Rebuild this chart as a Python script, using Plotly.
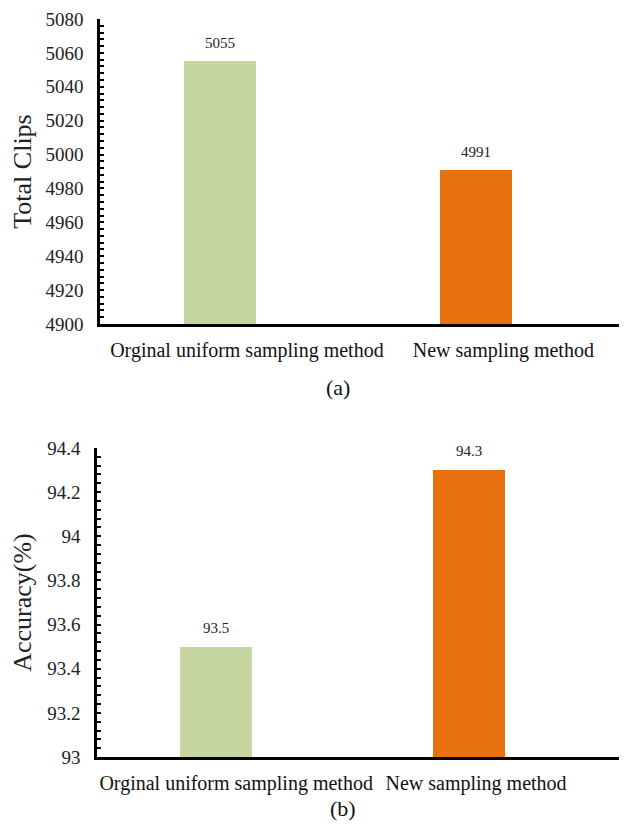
import plotly.graph_objects as go

categories = ["Orginal uniform sampling method", "New sampling method"]
total_clips = [5055, 4991]
accuracy = [93.5, 94.3]
bar_colors = ["#C5D6A0", "#E8710F"]
clip_ticks = [4900, 4920, 4940, 4960, 4980, 5000, 5020, 5040, 5060, 5080]
acc_ticks = [93, 93.2, 93.4, 93.6, 93.8, 94, 94.2, 94.4]
acc_tick_text = ["93", "93.2", "93.4", "93.6", "93.8", "94", "94.2", "94.4"]
panel_labels = ["(a)", "(b)"]

FONT = "Times New Roman, Liberation Serif, serif"
xpos = list(range(len(categories)))

# page body has an 8px margin; figure sized to fit the window exactly
W, H = 611, 817

fig = go.Figure()
fig.add_trace(go.Bar(x=xpos, y=total_clips, marker=dict(color=bar_colors, line=dict(width=0)),
                     width=0.281, xaxis="x", yaxis="y", showlegend=False))
fig.add_trace(go.Bar(x=xpos, y=accuracy, marker=dict(color=bar_colors, line=dict(width=0)),
                     width=0.285, xaxis="x2", yaxis="y2", showlegend=False))

ann = []
for i, v in enumerate(total_clips):
    ann.append(dict(x=xpos[i], y=v, xref="x", yref="y", text=str(v), showarrow=False,
                    yanchor="middle", yshift=18, font=dict(family=FONT, size=15, color="#222")))
for i, v in enumerate(accuracy):
    ann.append(dict(x=xpos[i], y=v, xref="x2", yref="y2", text=str(v), showarrow=False,
                    yanchor="middle", yshift=19, font=dict(family=FONT, size=15, color="#222")))
ann.append(dict(x=330/W, y=1-379.5/H, xref="paper", yref="paper", text=panel_labels[0],
                showarrow=False, xanchor="center", yanchor="middle",
                font=dict(family=FONT, size=22, color="#111")))
ann.append(dict(x=335/W, y=1-800/H, xref="paper", yref="paper", text=panel_labels[1],
                showarrow=False, xanchor="center", yanchor="middle",
                font=dict(family=FONT, size=22, color="#111")))

xaxis_common = dict(showgrid=False, zeroline=False, ticks="", showline=True, linecolor="black",
                    linewidth=3, tickfont=dict(family=FONT, size=20, color="#111"), automargin=False,
                    ticklabelstandoff=6, ticklabeloverflow="allow")
yaxis_common = dict(showgrid=False, zeroline=False, showline=True, linecolor="black", linewidth=2.5,
                    ticks="inside", ticklen=4, tickwidth=2, tickcolor="black", automargin=False,
                    tickfont=dict(family=FONT, size=19, color="#222"), ticklabelstandoff=10,
                    ticklabeloverflow="allow")

fig.update_layout(
    width=W, height=H, margin=dict(l=0, r=0, t=0, b=0, autoexpand=False),
    paper_bgcolor="white", plot_bgcolor="white",
    xaxis=dict(domain=[92/W, 1.0], anchor="y", range=[-0.468, 1.556],
               tickvals=[0.105, 1.105], ticktext=categories, **xaxis_common),
    yaxis=dict(domain=[1-316/H, 1-11/H], anchor="x", range=[4900, 5080],
               tickvals=clip_ticks, minor=dict(dtick=4, ticks="inside", ticklen=4, tickwidth=2, tickcolor="black"),
               title=dict(text="Total Clips", font=dict(family=FONT, size=26, color="#222"), standoff=12),
               **yaxis_common),
    xaxis2=dict(domain=[89/W, 1.0], anchor="y2", range=[-0.470, 1.593],
                tickvals=[0.08, 1.028], ticktext=categories, **xaxis_common),
    yaxis2=dict(domain=[1-749/H, 1-440/H], anchor="x2", range=[93, 94.4],
                tickvals=acc_ticks, ticktext=acc_tick_text,
                minor=dict(dtick=0.04, ticks="inside", ticklen=4, tickwidth=2, tickcolor="black"),
                title=dict(text="Accuracy(%)", font=dict(family=FONT, size=26, color="#222"), standoff=12),
                **yaxis_common),
    annotations=ann,
    bargap=0,
)

fig.write_html("out.html")
